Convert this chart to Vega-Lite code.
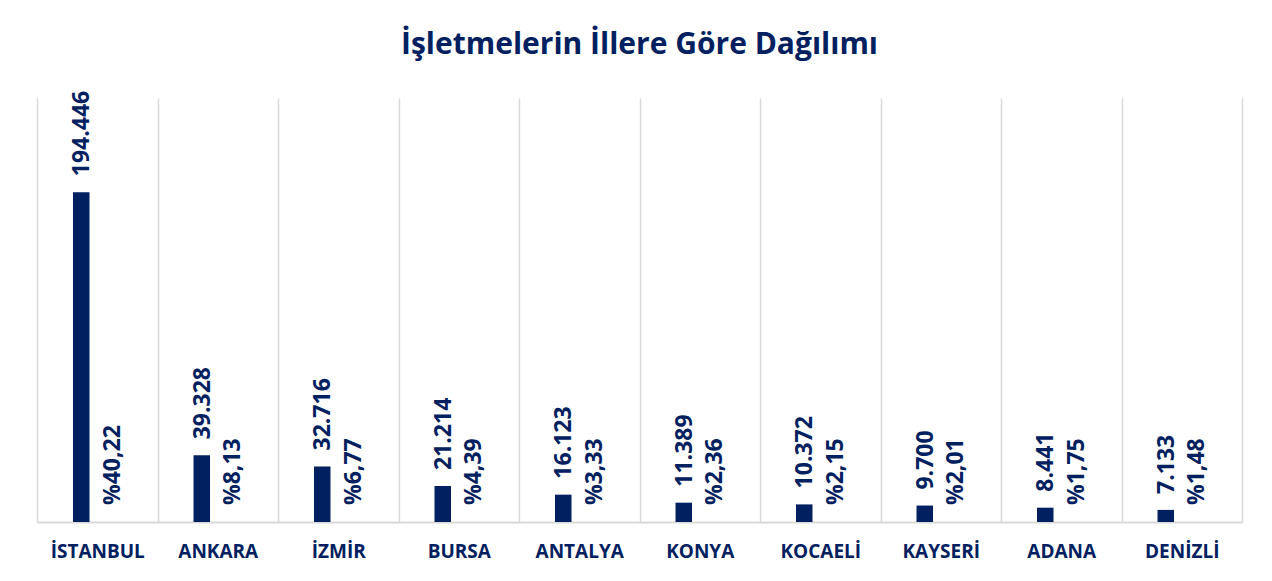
{
  "$schema": "https://vega.github.io/schema/vega-lite/v6.json",
  "width": 1205,
  "height": 424,
  "autosize": {"type": "none"},
  "padding": {"left": 37, "top": 98, "right": 30, "bottom": 59},
  "background": "white",
  "config": {
    "locale": {"number": {"decimal": ",", "thousands": ".", "grouping": [3], "currency": ["%", ""]}},
    "view": {"stroke": null},
    "font": "Open Sans"
  },
  "title": {
    "text": "İşletmelerin İllere Göre Dağılımı",
    "anchor": "middle",
    "frame": "group",
    "baseline": "alphabetic",
    "offset": 7,
    "fontSize": 30,
    "font": "Open Sans",
    "fontWeight": "bold",
    "color": "#002060"
  },
  "data": {
    "values": [
      {"city": "İSTANBUL", "count": 194446, "pct": 40.22},
      {"city": "ANKARA", "count": 39328, "pct": 8.13},
      {"city": "İZMİR", "count": 32716, "pct": 6.77},
      {"city": "BURSA", "count": 21214, "pct": 4.39},
      {"city": "ANTALYA", "count": 16123, "pct": 3.33},
      {"city": "KONYA", "count": 11389, "pct": 2.36},
      {"city": "KOCAELİ", "count": 10372, "pct": 2.15},
      {"city": "KAYSERİ", "count": 9700, "pct": 2.01},
      {"city": "ADANA", "count": 8441, "pct": 1.75},
      {"city": "DENİZLİ", "count": 7133, "pct": 1.48}
    ]
  },
  "encoding": {
    "x": {
      "field": "city",
      "type": "nominal",
      "sort": null,
      "scale": {"paddingInner": 0, "paddingOuter": 0},
      "axis": {
        "title": null,
        "labelAngle": 0,
        "labelFont": "Open Sans",
        "labelFontWeight": "bold",
        "labelFontSize": 19,
        "labelColor": "#002060",
        "labelBaseline": "alphabetic",
        "labelPadding": 35,
        "labelLimit": 0,
        "ticks": false,
        "tickSize": 0,
        "tickBand": "extent",
        "domainColor": "#d9d9d9",
        "domainWidth": 2,
        "grid": true,
        "gridColor": "#d9d9d9",
        "gridWidth": 1.5
      }
    }
  },
  "layer": [
    {
      "mark": {"type": "bar", "width": 16.5, "xOffset": -16, "color": "#002060"},
      "encoding": {
        "y": {"field": "count", "type": "quantitative", "scale": {"domain": [0, 250000], "nice": false, "zero": true}, "axis": null}
      }
    },
    {
      "mark": {"type": "text", "angle": 270, "align": "left", "baseline": "middle", "dx": 16, "xOffset": -15, "font": "Open Sans", "fontWeight": "bold", "fontSize": 23, "color": "#002060"},
      "encoding": {
        "y": {"field": "count", "type": "quantitative", "scale": {"domain": [0, 250000], "nice": false}},
        "text": {"field": "count", "type": "quantitative", "format": ",d"}
      }
    },
    {
      "mark": {"type": "text", "angle": 270, "align": "left", "baseline": "middle", "dx": 17, "xOffset": 15.5, "font": "Open Sans", "fontWeight": "bold", "fontSize": 23, "color": "#002060"},
      "encoding": {
        "y": {"datum": 0},
        "text": {"field": "pct", "type": "quantitative", "format": "$.2f"}
      }
    }
  ]
}
